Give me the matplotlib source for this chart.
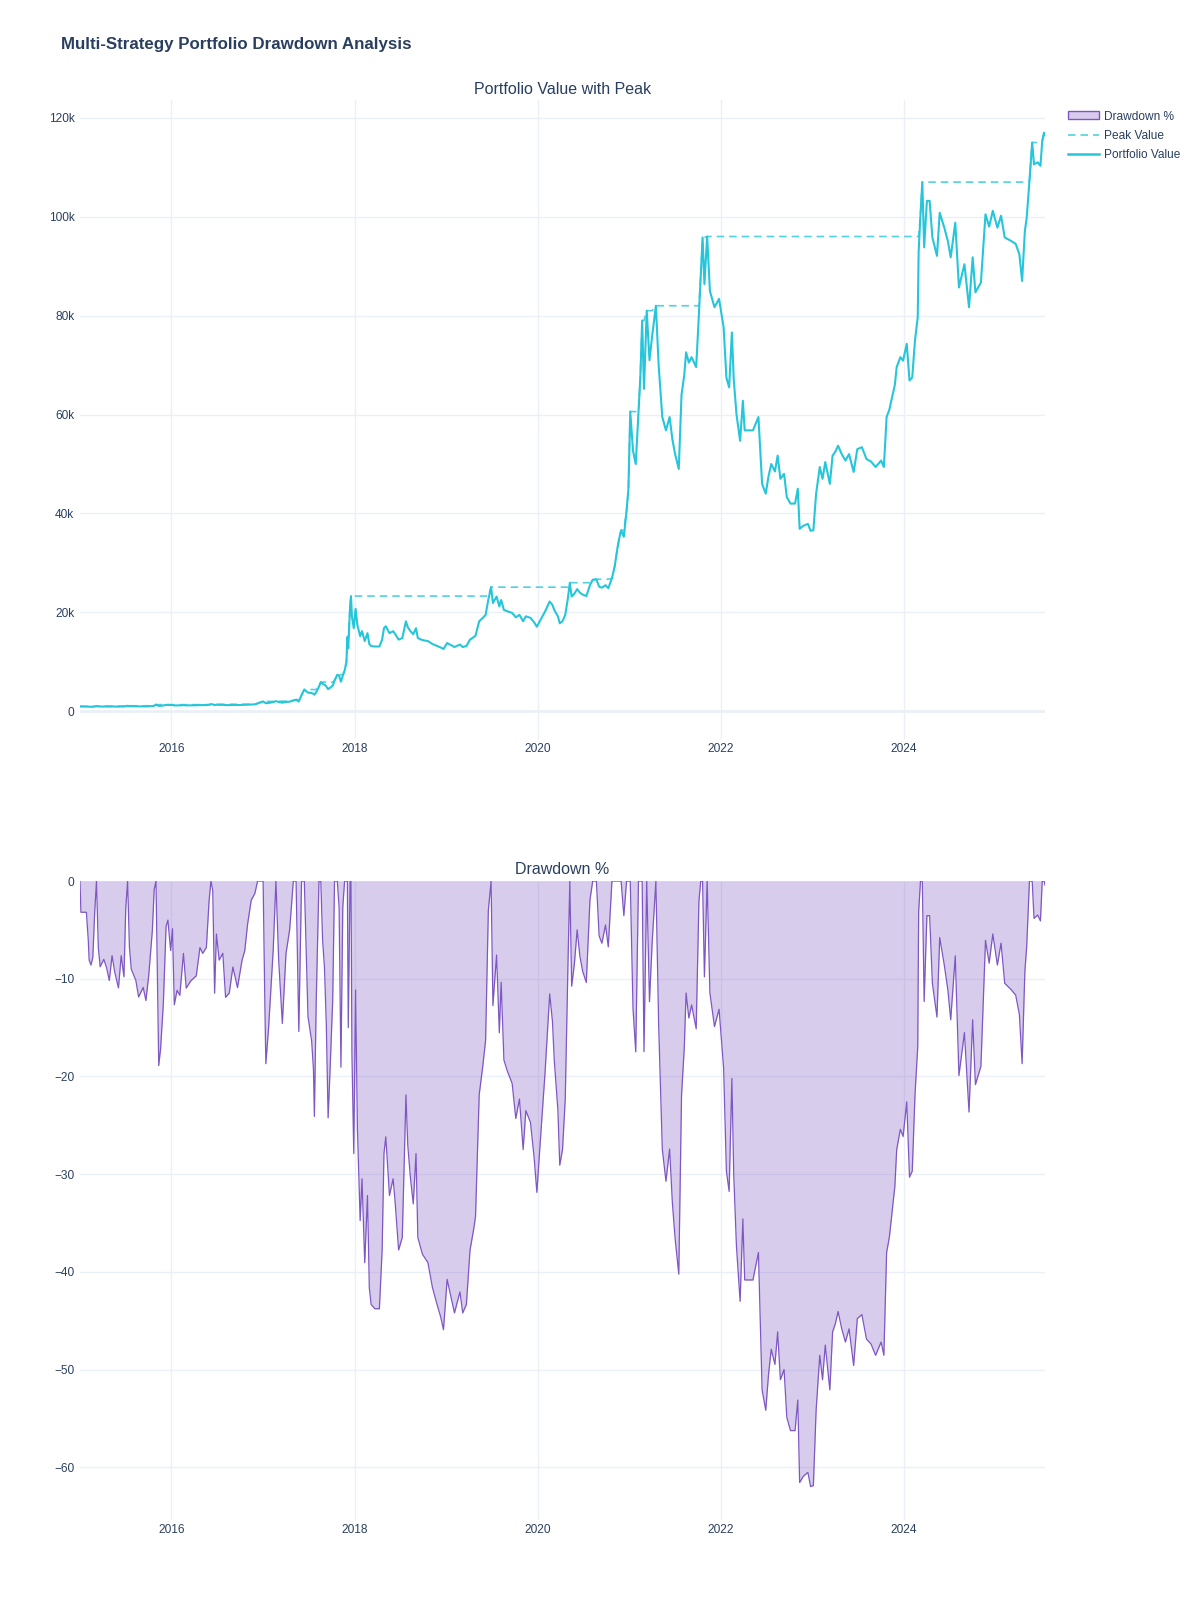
import matplotlib
matplotlib.use("Agg")
import matplotlib.pyplot as plt
from matplotlib.lines import Line2D
from matplotlib.patches import Patch
import matplotlib.dates as mdates
import numpy as np
import pandas as pd

# decimal years and portfolio value
years = [
    2015.00, 2015.01, 2015.07, 2015.09, 2015.10, 2015.12, 2015.14, 2015.16, 2015.18, 2015.20,
    2015.22, 2015.26, 2015.29, 2015.32, 2015.35, 2015.38, 2015.42, 2015.45, 2015.48, 2015.50,
    2015.52, 2015.54, 2015.56, 2015.61, 2015.64, 2015.69, 2015.72, 2015.75, 2015.79, 2015.81,
    2015.83, 2015.86, 2015.88, 2015.91, 2015.94, 2015.96, 2015.99,
    2016.01, 2016.03, 2016.06, 2016.09, 2016.13, 2016.16, 2016.21, 2016.27, 2016.31, 2016.34,
    2016.38, 2016.41, 2016.43, 2016.45, 2016.47, 2016.49,
    2016.52, 2016.56, 2016.59, 2016.63, 2016.67, 2016.72, 2016.77, 2016.80, 2016.83, 2016.87,
    2016.91, 2016.94, 2016.97,
    2017.00, 2017.02, 2017.03, 2017.06, 2017.11, 2017.14, 2017.17, 2017.21, 2017.25, 2017.29,
    2017.33, 2017.36, 2017.39, 2017.42, 2017.45,
    2017.49, 2017.53, 2017.55, 2017.56, 2017.58, 2017.61, 2017.63, 2017.65, 2017.67, 2017.69,
    2017.71, 2017.73, 2017.76, 2017.78, 2017.81, 2017.83, 2017.85, 2017.87, 2017.89, 2017.91,
    2017.92, 2017.93, 2017.95, 2017.96, 2017.97, 2017.99,
    2018.01, 2018.03, 2018.06, 2018.08, 2018.11, 2018.14, 2018.16, 2018.18, 2018.22, 2018.27,
    2018.30, 2018.32, 2018.34, 2018.38, 2018.42, 2018.44, 2018.48, 2018.52, 2018.56, 2018.58,
    2018.61, 2018.64, 2018.67, 2018.69, 2018.74, 2018.80, 2018.85, 2018.90, 2018.94, 2018.97,
    2019.01, 2019.05, 2019.09, 2019.15, 2019.18, 2019.22, 2019.26, 2019.30, 2019.32, 2019.36,
    2019.40, 2019.43, 2019.46, 2019.49, 2019.51, 2019.55, 2019.58, 2019.60, 2019.63, 2019.67,
    2019.72, 2019.76, 2019.80, 2019.84, 2019.87, 2019.92, 2019.96, 2019.99,
    2020.03, 2020.08, 2020.13, 2020.16, 2020.18, 2020.22, 2020.24, 2020.27, 2020.30, 2020.33,
    2020.35, 2020.37, 2020.40, 2020.43, 2020.46, 2020.49, 2020.53, 2020.57, 2020.60, 2020.64,
    2020.67, 2020.70, 2020.74, 2020.77, 2020.81, 2020.84, 2020.87, 2020.89, 2020.91, 2020.94,
    2020.97, 2020.99,
    2021.01, 2021.04, 2021.07, 2021.10, 2021.12, 2021.14, 2021.16, 2021.19, 2021.22, 2021.25,
    2021.29, 2021.32, 2021.36, 2021.40, 2021.44, 2021.47, 2021.50, 2021.54, 2021.57, 2021.60,
    2021.62, 2021.65, 2021.68, 2021.73, 2021.76, 2021.78, 2021.80, 2021.82, 2021.85, 2021.88,
    2021.91, 2021.93, 2021.98,
    2022.03, 2022.06, 2022.09, 2022.12, 2022.14, 2022.17, 2022.21, 2022.24, 2022.26, 2022.35,
    2022.41, 2022.45, 2022.49, 2022.52, 2022.55, 2022.59, 2022.62, 2022.65, 2022.69, 2022.72,
    2022.76, 2022.81, 2022.84, 2022.86, 2022.90, 2022.95, 2022.98,
    2023.01, 2023.04, 2023.08, 2023.11, 2023.14, 2023.19, 2023.22, 2023.25, 2023.28, 2023.32,
    2023.36, 2023.40, 2023.45, 2023.49, 2023.54, 2023.59, 2023.64, 2023.69, 2023.75, 2023.78,
    2023.81, 2023.84, 2023.87, 2023.90, 2023.92, 2023.96, 2023.99,
    2024.03, 2024.06, 2024.09, 2024.12, 2024.15, 2024.16, 2024.18, 2024.20, 2024.22, 2024.25,
    2024.28, 2024.31, 2024.36, 2024.39, 2024.44, 2024.48, 2024.51, 2024.56, 2024.60, 2024.66,
    2024.71, 2024.75, 2024.78, 2024.84, 2024.89, 2024.93, 2024.97,
    2025.02, 2025.06, 2025.10, 2025.17, 2025.22, 2025.26, 2025.29, 2025.32, 2025.34, 2025.37,
    2025.40, 2025.42, 2025.46, 2025.49, 2025.51, 2025.53, 2025.54,
]

portfolio_value = [
    1000, 968, 968, 940, 919, 914, 922, 967, 1060, 988,
    967, 975, 966, 952, 979, 961, 944, 979, 956, 1031,
    1120, 1044, 1019, 1006, 987, 998, 983, 1011, 1063, 1110,
    1350, 1095, 1118, 1180, 1287, 1296, 1254,
    1284, 1179, 1199, 1192, 1250, 1202, 1212, 1219, 1258, 1250,
    1258, 1323, 1420, 1406, 1257, 1343,
    1305, 1315, 1251, 1257, 1295, 1265, 1305, 1319, 1357, 1392,
    1402, 1600, 1800,
    2000, 1736, 1626, 1700, 1858, 2050, 1884, 1751, 1898, 1948,
    2200, 2350, 1988, 3300, 4400,
    3790, 3680, 3550, 3340, 3860, 5000, 5900, 5540, 5380, 5040,
    4470, 4740, 5180, 6200, 7400, 7200, 5990, 7200, 8200, 10000,
    15000, 12750, 21200, 23300, 19200, 16800,
    20700, 17400, 15200, 16200, 14200, 15800, 13600, 13200, 13100, 13100,
    14500, 16800, 17200, 15800, 16200, 15700, 14500, 14800, 18200, 17000,
    16200, 15600, 16800, 14800, 14400, 14200, 13600, 13200, 12900, 12600,
    13800, 13400, 13000, 13500, 13000, 13200, 14500, 15000, 15300, 18200,
    18900, 19500, 22600, 25100, 21900, 23200, 21200, 22500, 20500, 20200,
    19900, 19000, 19500, 18200, 19200, 18900, 18000, 17100,
    18500, 20200, 22200, 21500, 20500, 19200, 17800, 18200, 19500, 23000,
    26000, 23200, 23800, 24700, 24000, 23600, 23300, 25500, 26600, 26700,
    25200, 25000, 25500, 24900, 26900, 29300, 33000, 35000, 36600, 35300,
    40600, 45000,
    60600, 52700, 50000, 60600, 67500, 79000, 65200, 81000, 71000, 76000,
    82000, 70000, 59500, 56800, 59500, 55000, 52000, 49000, 64000, 68000,
    72600, 70500, 71600, 69600, 80300, 88000, 95800, 86400, 96000, 85000,
    83000, 81700, 83400,
    77600, 67500, 65500, 76600, 67200, 60100, 54700, 62800, 56800, 56800,
    59500, 46000, 44000, 47500, 50000, 48500, 51700, 47000, 48000, 43300,
    42000, 42000, 45000, 36900, 37500, 37900, 36500,
    36600, 44000, 49400, 47000, 50400, 46000, 51700, 52500, 53700, 52000,
    50700, 52000, 48400, 53000, 53400, 51000, 50500, 49400, 50700, 49400,
    59500, 61000, 63500, 66000, 69600, 71600, 70900,
    74300, 66900, 67500, 75000, 79700, 93000, 100500, 107000, 93800, 103200,
    103200, 95800, 92100, 100800, 97800, 95000, 91800, 98800, 85700, 90400,
    81700, 91800, 84700, 86700, 100500, 98000, 101200,
    97800, 100200, 95800, 95100, 94500, 92400, 87000, 97100, 99800, 107200,
    115000, 110600, 111000, 110300, 115300, 117000, 116500,
]

value_ticks = [0, 20000, 40000, 60000, 80000, 100000, 120000]
value_tick_labels = ["0", "20k", "40k", "60k", "80k", "100k", "120k"]
dd_ticks = [0, -10, -20, -30, -40, -50, -60]
year_ticks = [2016, 2018, 2020, 2022, 2024]

assert len(years) == len(portfolio_value)

CYAN = "#26c6da"
PURPLE = "#7e57c2"
TEXT = "#2a3f5f"
GRID = "#ebf0f8"

dates = pd.Timestamp("2015-01-01") + pd.to_timedelta(
    (np.array(years) - 2015.0) * 365.25, unit="D")
value = np.array(portfolio_value, dtype=float)
peak = np.maximum.accumulate(value)
drawdown = (value / peak - 1.0) * 100.0

plt.rcParams["font.family"] = ["Liberation Sans", "DejaVu Sans"]

W, H = 1200, 1600
fig = plt.figure(figsize=(12, 16), dpi=100)


def px_axes(left, top, right, bottom):
    return fig.add_axes([left / W, 1 - bottom / H, (right - left) / W, (bottom - top) / H])


ax1 = px_axes(80, 100, 1045, 739)
ax2 = px_axes(80, 881, 1045, 1520)

tick_dates = [pd.Timestamp(f"{y}-01-01") for y in year_ticks]

for ax in (ax1, ax2):
    for s in ax.spines.values():
        s.set_visible(False)
    ax.grid(True, color=GRID, linewidth=1)
    ax.set_axisbelow(True)
    ax.tick_params(length=0, labelsize=8.6, labelcolor=TEXT)
    ax.tick_params(axis="y", pad=4)
    ax.tick_params(axis="x", pad=3)
    ax.set_xticks(tick_dates)
    ax.xaxis.set_major_formatter(mdates.DateFormatter("%Y"))
    ax.set_xlim(dates[0], dates[-1])

# top panel
ax1.axhline(0, color=GRID, linewidth=2, zorder=1)
ax1.plot(dates, value, color=CYAN, linewidth=1.5, zorder=3)
ax1.plot(dates, peak, color=CYAN, linewidth=1.2, dashes=(4.5, 3), alpha=0.8, zorder=4)
ax1.set_ylim(-5600, 123600)
ax1.set_yticks(value_ticks)
ax1.set_yticklabels(value_tick_labels)

# bottom panel
ax2.fill_between(dates, drawdown, 0, color=PURPLE, alpha=0.3, linewidth=0, zorder=2)
ax2.plot(dates, drawdown, color=PURPLE, linewidth=0.9, zorder=3)
ax2.set_ylim(-65.4, 0)
ax2.set_yticks(dd_ticks)
ax2.set_yticklabels(["0"] + ["\u2212%d" % abs(t) for t in dd_ticks[1:]])

fig.text(61 / W, 1 - 44 / H, "Multi-Strategy Portfolio Drawdown Analysis",
         fontsize=12.2, fontweight="bold", color=TEXT, va="center", ha="left")
fig.text((80 + 1045) / 2 / W, 1 - 89 / H, "Portfolio Value with Peak",
         fontsize=11.5, color=TEXT, va="center", ha="center")
fig.text((80 + 1045) / 2 / W, 1 - 869 / H, "Drawdown %",
         fontsize=11.5, color=TEXT, va="center", ha="center")

handles = [
    Patch(facecolor=(126 / 255, 87 / 255, 194 / 255, 0.3), edgecolor=PURPLE, linewidth=1),
    Line2D([], [], color=CYAN, linewidth=1.2, dashes=(4.5, 3), alpha=0.8),
    Line2D([], [], color=CYAN, linewidth=1.8),
]
fig.legend(handles, ["Drawdown %", "Peak Value", "Portfolio Value"],
           loc="upper left", bbox_to_anchor=(1068 / W, 1 - 110.5 / H),
           frameon=False, fontsize=8.6, labelcolor=TEXT, handlelength=2.6,
           handleheight=0.6, handletextpad=0.45, labelspacing=0.62,
           borderpad=0, borderaxespad=0)

fig.savefig("out.png", dpi=100, facecolor="white")
